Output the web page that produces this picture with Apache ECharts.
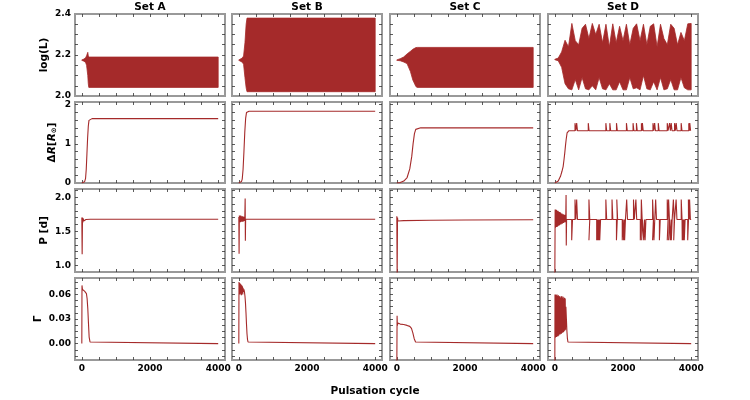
<!DOCTYPE html>
<html>
<head>
<meta charset="utf-8">
<script src="https://cdn.jsdelivr.net/npm/echarts@6/dist/echarts.min.js"></script>
<style>
  html, body { margin: 0; padding: 0; background: #fff; }
  #chart { width: 750px; height: 400px; }
</style>
</head>
<body>
<div id="chart"></div>
<script>
// ---- axes ----
const setNames = ['Set A', 'Set B', 'Set C', 'Set D'];
const cycleTicks = [0, 500, 1000, 1500, 2000, 2500, 3000, 3500, 4000];
const cycleLabels = [0, 2000, 4000];
const logLTicks = [2.05, 2.1, 2.15, 2.2, 2.25, 2.3, 2.35];
const logLLabels = [2.0, 2.2, 2.4];
const dRTicks = [0.2, 0.4, 0.6, 0.8, 1.0, 1.2, 1.4, 1.6, 1.8, 2.0];
const dRLabels = [0, 1, 2];
const pTicks = [1.0, 1.1, 1.2, 1.3, 1.4, 1.5, 1.6, 1.7, 1.8, 1.9, 2.0, 2.1];
const pLabels = [1.0, 1.5, 2.0];
const gTicks = [-0.015, -0.0075, 0, 0.0075, 0.015, 0.0225, 0.03, 0.0375, 0.045, 0.0525, 0.06, 0.0675, 0.075];
const gLabels = [0, 0.03, 0.06];

// ---- row 1: log(L), envelope of the oscillation (upper / lower) ----
const logL_A_x  = [0, 60, 110, 140, 175, 190, 205, 4000];
const logL_A_hi = [2.176, 2.180, 2.186, 2.196, 2.213, 2.195, 2.190, 2.190];
const logL_A_lo = [2.174, 2.170, 2.164, 2.150, 2.100, 2.060, 2.042, 2.042];

const logL_B_x  = [0, 100, 140, 180, 215, 240, 4000];
const logL_B_hi = [2.176, 2.185, 2.195, 2.260, 2.350, 2.380, 2.380];
const logL_B_lo = [2.174, 2.165, 2.155, 2.090, 2.040, 2.021, 2.021];

const logL_C_x  = [0, 100, 200, 300, 400, 470, 560, 600, 4000];
const logL_C_hi = [2.176, 2.182, 2.190, 2.205, 2.218, 2.228, 2.236, 2.237, 2.237];
const logL_C_lo = [2.174, 2.172, 2.166, 2.158, 2.119, 2.078, 2.046, 2.042, 2.042];

const logL_D_x  = [0, 100, 200, 300, 400, 500, 600, 700, 800, 900, 1000, 1100, 1200, 1300, 1400,
  1500, 1600, 1700, 1800, 1900, 2000, 2100, 2200, 2300, 2400, 2500, 2600, 2700, 2800, 2900,
  3000, 3100, 3200, 3300, 3400, 3500, 3600, 3700, 3800, 3900, 4000];
const logL_D_hi = [2.179, 2.185, 2.215, 2.272, 2.240, 2.354, 2.270, 2.250, 2.330, 2.350, 2.280,
  2.354, 2.300, 2.350, 2.260, 2.350, 2.240, 2.352, 2.260, 2.340, 2.270, 2.350, 2.250, 2.330,
  2.352, 2.270, 2.350, 2.250, 2.340, 2.352, 2.240, 2.350, 2.280, 2.250, 2.350, 2.330, 2.250,
  2.310, 2.270, 2.352, 2.354];
const logL_D_lo = [2.177, 2.172, 2.140, 2.060, 2.035, 2.030, 2.080, 2.030, 2.090, 2.035, 2.030,
  2.050, 2.030, 2.090, 2.035, 2.030, 2.060, 2.030, 2.030, 2.070, 2.030, 2.030, 2.090, 2.035,
  2.040, 2.030, 2.100, 2.035, 2.030, 2.070, 2.030, 2.090, 2.030, 2.035, 2.080, 2.030, 2.030,
  2.090, 2.040, 2.030, 2.030];

// ---- row 2: delta R ----
const dR_A = [[0, 0], [40, 0.005], [80, 0.03], [110, 0.12], [130, 0.35], [150, 0.75], [170, 1.15],
  [190, 1.45], [210, 1.6], [230, 1.64], [300, 1.645], [4000, 1.645]];
const dR_B = [[0, 0], [40, 0.005], [80, 0.04], [100, 0.1], [125, 0.35], [150, 0.8], [175, 1.3],
  [200, 1.65], [225, 1.8], [245, 1.83], [300, 1.835], [4000, 1.835]];
const dR_C = [[0, 0], [100, 0.01], [205, 0.05], [302, 0.14], [380, 0.36], [438, 0.68], [477, 1.0],
  [517, 1.26], [555, 1.37], [595, 1.405], [700, 1.41], [4000, 1.41]];
const dR_D = [[0, 0], [50, 0.01], [100, 0.05], [166, 0.17], [210, 0.3], [244, 0.42], [270, 0.6],
  [292, 0.77], [312, 0.95], [331, 1.1], [360, 1.28], [409, 1.334], [500, 1.335]];
const dR_D_base = 1.335;
const dR_D_top = 1.53;
const dR_D_spikes = [604, 653, 993, 1509, 1626, 1821, 2113, 2307, 2406, 2552, 2581, 2891, 2940,
  3047, 3310, 3378, 3426, 3524, 3572, 3718, 3942, 3971];

// ---- row 3: period ----
const P_A = [[0, 1.70], [10, 1.16], [20, 1.70], [30, 1.63], [40, 1.69], [55, 1.65], [75, 1.678],
  [120, 1.672], [250, 1.675], [4000, 1.675]];
const P_B = [[0, 1.71], [8, 1.17], [16, 1.73], [26, 1.63], [36, 1.73], [46, 1.63], [56, 1.73],
  [66, 1.64], [76, 1.72], [86, 1.64], [96, 1.72], [106, 1.64], [116, 1.72], [126, 1.64],
  [136, 1.71], [146, 1.65], [156, 1.71], [166, 1.65], [176, 1.70], [186, 1.98], [192, 1.36],
  [200, 1.68], [300, 1.675], [4000, 1.675]];
const P_C = [[0, 1.72], [10, 0.8], [20, 1.70], [30, 1.65], [60, 1.655], [200, 1.655],
  [1000, 1.66], [2000, 1.665], [4000, 1.668]];
const P_D = [[0, 0.8], [10, 1.82], [20, 1.55], [30, 1.82], [40, 1.56], [50, 1.81], [60, 1.56],
  [70, 1.80], [80, 1.57], [90, 1.80], [100, 1.58], [110, 1.79], [120, 1.58], [130, 1.78],
  [140, 1.59], [150, 1.78], [160, 1.60], [170, 1.77], [180, 1.60], [190, 1.76], [200, 1.61],
  [210, 1.76], [220, 1.61], [230, 1.75], [240, 1.62], [250, 1.75], [260, 1.62], [270, 1.74],
  [280, 1.63], [290, 1.74], [300, 1.63], [310, 1.72], [320, 1.66], [330, 2.03], [336, 1.29],
  [345, 1.671]];
const P_D_base = 1.671;
const P_D_upTop = 1.965;
const P_D_downBottom = 1.367;
const P_D_up = [604, 653, 1013, 1509, 1690, 1830, 2120, 2320, 2390, 2550, 2880, 2970, 3310, 3350,
  3490, 3570, 3720, 3930, 3965];
const P_D_down = [507, 1013, 1240, 1270, 1300, 1330, 1820, 1990, 2030, 2060, 2520, 2560, 2620,
  2660, 2880, 2920, 3080, 3310, 3350, 3400, 3430, 3500, 3750, 3780, 3810, 3910];

// ---- row 4: Gamma ----
const G_A = [[0, 0], [5, 0.071], [20, 0.066], [50, 0.066], [80, 0.064], [110, 0.063], [135, 0.061],
  [155, 0.055], [175, 0.043], [195, 0.025], [215, 0.008], [240, 0.002], [280, 0], [4000, 0]];
const G_B = [[0, 0], [5, 0.075], [15, 0.062], [25, 0.074], [35, 0.060], [45, 0.073], [55, 0.061],
  [65, 0.072], [75, 0.059], [85, 0.071], [95, 0.062], [105, 0.070], [115, 0.060], [125, 0.068],
  [135, 0.063], [150, 0.066], [165, 0.063], [180, 0.058], [195, 0.050], [210, 0.038],
  [225, 0.024], [240, 0.012], [255, 0.005], [270, 0.002], [290, 0], [4000, 0]];
const G_C = [[0, -0.03], [8, 0.034], [16, 0.022], [30, 0.025], [100, 0.0238], [200, 0.0232],
  [300, 0.0222], [380, 0.021], [430, 0.0185], [470, 0.013], [510, 0.006], [550, 0.002],
  [600, 0], [4000, 0]];
const G_D = [[0, -0.03], [5, 0.060], [15, 0.007], [25, 0.060], [35, 0.008], [45, 0.059],
  [55, 0.008], [65, 0.060], [75, 0.009], [85, 0.058], [95, 0.009], [105, 0.059], [115, 0.010],
  [125, 0.057], [135, 0.011], [145, 0.058], [155, 0.011], [165, 0.056], [175, 0.012],
  [185, 0.057], [195, 0.012], [205, 0.058], [215, 0.013], [225, 0.056], [235, 0.014],
  [245, 0.057], [255, 0.014], [265, 0.055], [275, 0.015], [285, 0.056], [295, 0.016],
  [305, 0.055], [315, 0.017], [325, 0.045], [340, 0.030], [355, 0.015], [370, 0.006],
  [385, 0.002], [400, 0], [4000, 0]];

// ---- layout ----
const colLeft = [75, 232, 390, 548];
const rowTop = [14, 102, 189, 278];
const rowH = [82, 81, 83, 82];
const PW = 150;
const BROWN = '#a52a2a';
const FONT = 'DejaVu Sans';

const rows = [
  { min: 2.0, max: 2.4, ticks: logLTicks, labels: logLLabels, fmt: v => v.toFixed(1), name: 'log(L)', gap: 25 },
  { min: 0, max: 2.07, ticks: dRTicks, labels: dRLabels, fmt: v => String(Math.round(v)),
    name: '{g|Δ}{i|R}{g|[}{i|R}{s|⊙}{g|]}', gap: 17 },
  { min: 0.9, max: 2.12, ticks: pTicks, labels: pLabels, fmt: v => v.toFixed(1), name: 'P [d]', gap: 25 },
  { min: -0.02, max: 0.08, ticks: gTicks, labels: gLabels, fmt: v => v.toFixed(2), name: 'Γ', gap: 31 }
];

// spikes sitting on a flat level
function withSpikes(start, base, events, w) {
  const out = start.slice();
  events.slice().sort((a, b) => a[0] - b[0]).forEach(([x, v]) => {
    out.push([x - w, base], [x - w, v], [x + w, v], [x + w, base]);
  });
  out.push([4000, base]);
  return out;
}

const panelData = [
  [[logL_A_x, logL_A_lo, logL_A_hi], [logL_B_x, logL_B_lo, logL_B_hi],
   [logL_C_x, logL_C_lo, logL_C_hi], [logL_D_x, logL_D_lo, logL_D_hi]],
  [dR_A, dR_B, dR_C, withSpikes(dR_D, dR_D_base, dR_D_spikes.map(x => [x, dR_D_top]), 12)],
  [P_A, P_B, P_C, withSpikes(P_D, P_D_base,
    P_D_up.map(x => [x, P_D_upTop]).concat(P_D_down.map(x => [x, P_D_downBottom])), 12)],
  [G_A, G_B, G_C, G_D]
];

const grids = [], xAxes = [], yAxes = [], series = [];
const tickStyle = { show: true, inside: true, length: 3, lineStyle: { color: '#333', width: 0.8 } };
const labelStyle = { fontSize: 9, fontWeight: 'bold', fontFamily: FONT, color: '#000' };
const noLine = { show: false, onZero: false };

for (let r = 0; r < 4; r++) {
  for (let c = 0; c < 4; c++) {
    const g = r * 4 + c;
    const R = rows[r];
    grids.push({ left: colLeft[c], top: rowTop[r], width: PW, height: rowH[r],
      show: true, borderColor: '#999', borderWidth: 2 });

    xAxes.push({ type: 'value', gridIndex: g, position: 'bottom', min: -200, max: 4200,
      axisLine: noLine, splitLine: { show: false },
      axisTick: Object.assign({ customValues: cycleTicks }, tickStyle),
      axisLabel: Object.assign({ show: r === 3, customValues: cycleLabels, margin: 4,
        formatter: v => String(v) }, labelStyle) });
    xAxes.push({ type: 'value', gridIndex: g, position: 'top', min: -200, max: 4200,
      axisLine: noLine, splitLine: { show: false },
      axisTick: Object.assign({ customValues: cycleTicks }, tickStyle),
      axisLabel: { show: false } });

    yAxes.push({ type: 'value', gridIndex: g, position: 'left', min: R.min, max: R.max,
      axisLine: noLine, splitLine: { show: false },
      axisTick: Object.assign({ customValues: R.ticks }, tickStyle),
      axisLabel: Object.assign({ show: c === 0, customValues: R.labels, margin: 4, formatter: R.fmt }, labelStyle),
      name: c === 0 ? R.name : '', nameLocation: 'middle', nameRotate: 90, nameGap: R.gap,
      nameTextStyle: { fontSize: 10.5, fontWeight: 'bold', fontFamily: FONT, color: '#000',
        rich: {
          g: { fontSize: 10.5, fontWeight: 'bold', fontFamily: FONT, color: '#000' },
          i: { fontSize: 10.5, fontWeight: 'bold', fontStyle: 'italic', fontFamily: FONT, color: '#000' },
          s: { fontSize: 7, fontWeight: 'bold', fontFamily: FONT, color: '#000', verticalAlign: 'bottom' }
        } } });
    yAxes.push({ type: 'value', gridIndex: g, position: 'right', min: R.min, max: R.max,
      axisLine: noLine, splitLine: { show: false },
      axisTick: Object.assign({ customValues: R.ticks }, tickStyle),
      axisLabel: { show: false } });

    if (r === 0) {
      // oscillation band: polygon between upper and lower envelope
      const [xs, lo, hi] = panelData[r][c];
      series.push({
        type: 'custom', xAxisIndex: 2 * g, yAxisIndex: 2 * g, clip: true, silent: true,
        data: xs.map((x, i) => [x, lo[i], hi[i]]),
        renderItem: function (params, api) {
          if (params.dataIndex !== 0) return null;
          const top = xs.map((x, i) => api.coord([x, hi[i]]));
          const bot = xs.map((x, i) => api.coord([x, lo[i]])).reverse();
          return { type: 'polygon', shape: { points: top.concat(bot) },
            style: { fill: BROWN, stroke: BROWN, lineWidth: 0.8 } };
        }
      });
    } else {
      series.push({ type: 'line', xAxisIndex: 2 * g, yAxisIndex: 2 * g, symbol: 'none',
        lineStyle: { color: BROWN, width: 1.1 }, itemStyle: { color: BROWN }, silent: true,
        data: panelData[r][c] });
    }
  }
}

const graphic = setNames.map((t, c) => ({
  type: 'text', x: colLeft[c] + PW / 2, y: 7,
  style: { text: t, font: 'bold 10.5px "DejaVu Sans"', textAlign: 'center', textVerticalAlign: 'middle', fill: '#000' }
}));
graphic.push({ type: 'text', x: 375, y: 391,
  style: { text: 'Pulsation cycle', font: 'bold 10.5px "DejaVu Sans"', textAlign: 'center', textVerticalAlign: 'middle', fill: '#000' } });

const chart = echarts.init(document.getElementById('chart'));
chart.setOption({
  animation: false,
  backgroundColor: '#fff',
  grid: grids,
  xAxis: xAxes,
  yAxis: yAxes,
  series: series,
  graphic: graphic
});
</script>
</body>
</html>
